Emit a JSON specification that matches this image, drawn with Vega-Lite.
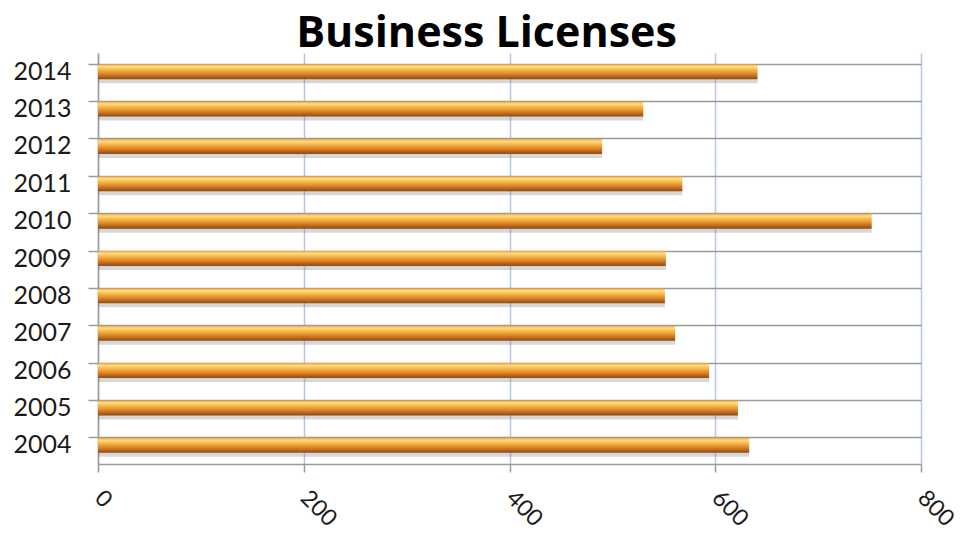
{
  "$schema": "https://vega.github.io/schema/vega-lite/v6.json",
  "autosize": "none",
  "width": 823,
  "height": 411,
  "padding": {"left": 98, "top": 53, "right": 39, "bottom": 71},
  "background": "white",
  "title": {
    "text": "Business Licenses",
    "font": "Open Sans",
    "fontSize": 43,
    "fontWeight": "bold",
    "color": "#000000",
    "anchor": "middle",
    "baseline": "alphabetic",
    "offset": 8,
    "dx": -23,
    "dy": 45
  },
  "config": {
    "view": {"stroke": null},
    "axis": {
      "labelFont": "Lato",
      "labelColor": "#1a1a1a",
      "domainColor": "#9a9a9a",
      "domainWidth": 1.5,
      "tickColor": "#9a9a9a",
      "tickWidth": 1.5
    }
  },
  "data": {
    "values": [
      {"year": "2004", "licenses": 633},
      {"year": "2005", "licenses": 622},
      {"year": "2006", "licenses": 594},
      {"year": "2007", "licenses": 561},
      {"year": "2008", "licenses": 551},
      {"year": "2009", "licenses": 552},
      {"year": "2010", "licenses": 752},
      {"year": "2011", "licenses": 568},
      {"year": "2012", "licenses": 490},
      {"year": "2013", "licenses": 530},
      {"year": "2014", "licenses": 641}
    ]
  },
  "encoding": {
    "y": {
      "field": "year",
      "type": "ordinal",
      "sort": "descending",
      "scale": {"paddingInner": 0.6, "paddingOuter": 0.3},
      "axis": {
        "title": null,
        "labelFontSize": 25,
        "labelPadding": 17,
        "tickSize": 10,
        "bandPosition": 0,
        "grid": true,
        "gridColor": "#9a9a9a",
        "gridWidth": 1.5
      }
    },
    "x": {
      "field": "licenses",
      "type": "quantitative",
      "scale": {"domain": [0, 800], "nice": false},
      "axis": {
        "title": null,
        "values": [0, 200, 400, 600, 800],
        "labelFontSize": 23,
        "labelAngle": 45,
        "labelAlign": "left",
        "labelBaseline": "middle",
        "labelPadding": 22,
        "labelBound": false,
        "tickSize": 8,
        "grid": true,
        "gridColor": "#b4c6e7",
        "gridWidth": 1.5
      }
    }
  },
  "layer": [
    {
      "mark": {"type": "bar", "size": 15, "yOffset": 4, "color": "#7a7a7a", "opacity": 0.3}
    },
    {
      "mark": {
        "type": "bar",
        "size": 15,
        "color": {
          "gradient": "linear",
          "x1": 0, "y1": 0, "x2": 0, "y2": 1,
          "stops": [
            {"offset": 0, "color": "#e9983a"},
            {"offset": 0.15, "color": "#ffe07e"},
            {"offset": 0.38, "color": "#f7b446"},
            {"offset": 0.62, "color": "#e08a2a"},
            {"offset": 0.85, "color": "#b4601a"},
            {"offset": 1, "color": "#8a4a12"}
          ]
        }
      }
    }
  ]
}
